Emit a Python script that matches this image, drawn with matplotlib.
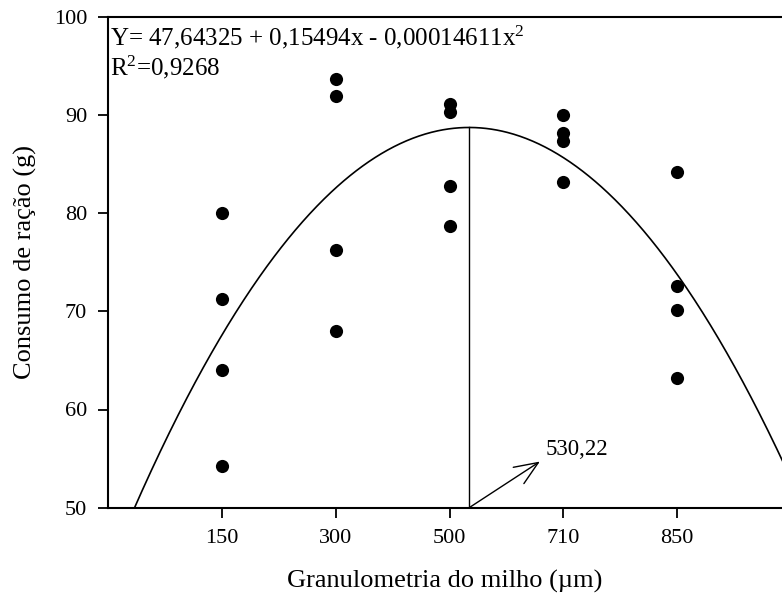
import numpy as np
import matplotlib
matplotlib.use("Agg")
import matplotlib.pyplot as plt

plt.rcParams["font.family"] = ["Liberation Serif", "DejaVu Serif"]
plt.rcParams["mathtext.fontset"] = "custom"
plt.rcParams["mathtext.rm"] = "Liberation Serif"
plt.rcParams["mathtext.it"] = "Liberation Serif:italic"

# Corn particle size treatments (µm) and feed intake per replicate (g)
granulometria = [150, 300, 500, 710, 850]
consumo_150 = [80.0, 71.3, 64.0, 54.2]
consumo_300 = [93.7, 91.9, 76.2, 68.0]
consumo_500 = [91.1, 90.3, 82.8, 78.7]
consumo_710 = [90.0, 88.2, 87.3, 83.2]
consumo_850 = [84.2, 72.6, 70.1, 63.2]
consumo = [consumo_150, consumo_300, consumo_500, consumo_710, consumo_850]

# Quadratic regression coefficients
b0, b1, b2 = 47.64325, 0.15494, -0.00014611
r2 = 0.9268
x_otimo = 530.22

# Treatments are placed evenly along the regression axis
pos = np.linspace(min(granulometria), max(granulometria), len(granulometria))

fig = plt.figure(figsize=(7.82, 6.03), dpi=100)
ax = fig.add_axes([108 / 782, 95.3 / 603, 1 - 108 / 782, 491 / 603])

for p, vals in zip(pos, consumo):
    ax.scatter([p] * len(vals), vals, s=90, color="black", zorder=3,
               linewidths=0)

xs = np.linspace(0, 1100, 800)
ax.plot(xs, b0 + b1 * xs + b2 * xs ** 2, color="black", lw=1.2)

y_max = b0 + b1 * x_otimo + b2 * x_otimo ** 2
ax.plot([x_otimo, x_otimo], [50, y_max], color="black", lw=1.0)

ax.annotate("", xy=(639, 54.7), xytext=(x_otimo, 50),
            arrowprops=dict(arrowstyle="->,head_length=1.7,head_width=0.7",
                            color="black", lw=1.0, shrinkA=0, shrinkB=0))
ax.text(647, 55.95, f"{x_otimo:.2f}".replace(".", ","), fontsize=16.5,
        va="center", ha="left")

ax.text(0.003, 0.985, "Y= 47,64325 + 0,15494x - 0,00014611x$^2$",
        transform=ax.transAxes, fontsize=18, va="top", ha="left")
ax.text(0.003, 0.925, "R$^2$=" + f"{r2}".replace(".", ","),
        transform=ax.transAxes, fontsize=18, va="top", ha="left")

ax.set_xlim(-25.4, 1011.5)
ax.set_ylim(50, 100)
ax.set_xticks(pos)
ax.set_xticklabels([str(g) for g in granulometria])
ax.set_yticks(np.arange(50, 101, 10))

ax.tick_params(direction="out", length=7, width=1.3, labelsize=16, pad=8)
for side in ["left", "bottom", "top"]:
    ax.spines[side].set_linewidth(1.5)
ax.spines["right"].set_visible(False)

ax.set_xlabel("Granulometria do milho (\u00b5m)", fontsize=19, labelpad=16)
ax.set_ylabel("Consumo de ração (g)", fontsize=19, labelpad=12)

fig.savefig("out.png", dpi=100, facecolor="white")
